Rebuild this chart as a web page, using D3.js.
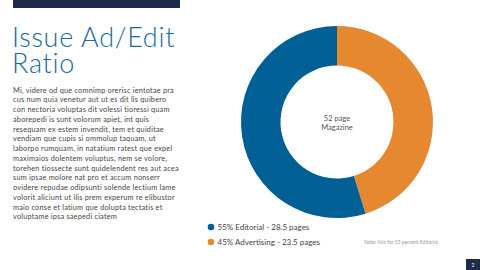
<!DOCTYPE html>
<html>
<head>
<meta charset="utf-8">
<script src="https://cdn.jsdelivr.net/npm/d3@7"></script>
<style>
  body { margin: 0; background: #fff; }
  svg { display: block; font-family: Lato, "Open Sans", sans-serif; }
</style>
</head>
<body>
<div id="chart"></div>
<script>
(function() {

  var labels = ['Advertising', 'Editorial'];
  var percents = [45, 55];
  var pages = [23.5, 28.5];
  var colors = ['#e6882f', '#005f95'];
  var centerText = ['52 page', 'Magazine'];
  var title = ['Issue Ad/Edit', 'Ratio'];
  var bodyLines = [
    'Mi, videre od que comnimp orerisc ientotae pra',
    'cus num quia venetur aut ut es dit lis quibero',
    'con nectoria voluptas dit volessi tioressi quam',
    'aborepedi is sunt volorum apiet, int quis',
    'resequam ex estem invendit, tem et quiditae',
    'vendiam que cupis si ommolup taquam, ut',
    'laborpo rumquam, in natatium ratest que expel',
    'maximaios dolentem voluptus, nem se volore,',
    'torehen tiossecte sunt quidelendent res aut acea',
    'sum ipsae molore nat pro et accum nonserr',
    'ovidere repudae odipsunti solende lectium lame',
    'volorit aliciunt ut ilis prem experum re elibustor',
    'maio conse et latium que dolupta tectatis et',
    'voluptame ipsa saepedi ciatem'
  ];
  var legendOrder = [1, 0];
  var note = 'Note: Aim for 55 percent Editorial';

  var width = 480, height = 270;
  var svg = d3.select('#chart').append('svg')
    .attr('width', width)
    .attr('height', height);

  // top bar and page number
  svg.append('rect').attr('x', 13).attr('y', 0).attr('width', 167).attr('height', 8).attr('fill', '#1f2c49');
  svg.append('rect').attr('x', 466).attr('y', 259).attr('width', 14).attr('height', 11).attr('fill', '#1f2c49');
  svg.append('text').attr('x', 473).attr('y', 266.5).attr('text-anchor', 'middle')
    .attr('font-size', 5).attr('fill', '#fff').text('2');

  svg.append('g').selectAll('text')
    .data(title)
    .enter()
    .append('text')
    .attr('x', 12)
    .attr('y', function(d, i) { return 46.5 + i * 26; })
    .attr('font-size', 27)
    .attr('font-weight', 300)
    .attr('letter-spacing', 0.7)
    .attr('fill', '#1a6aa1')
    .text(function(d) { return d; });

  svg.append('g').selectAll('text')
    .data(bodyLines)
    .enter()
    .append('text')
    .attr('x', 13)
    .attr('y', function(d, i) { return 92.5 + i * 9.75; })
    .attr('font-size', 7.3)
    .attr('letter-spacing', 0.22)
    .attr('fill', '#444')
    .text(function(d) { return d; });

  // donut
  var cx = 337, cy = 122;
  var pie = d3.pie().sort(null).value(function(d) { return d; });
  var arc = d3.arc().innerRadius(56.5).outerRadius(96);
  var donut = svg.append('g').attr('transform', 'translate(' + cx + ',' + cy + ')');
  donut.selectAll('path')
    .data(pie(pages))
    .enter()
    .append('path')
    .attr('fill', function(d, i) { return colors[i]; })
    .attr('d', arc);

  donut.selectAll('text')
    .data(centerText)
    .enter()
    .append('text')
    .attr('text-anchor', 'middle')
    .attr('y', function(d, i) { return -1 + i * 9; })
    .attr('font-size', 7.5)
    .attr('fill', '#555')
    .text(function(d) { return d; });

  // legend
  var legend = svg.append('g').selectAll('g')
    .data(legendOrder)
    .enter()
    .append('g')
    .attr('transform', function(d, i) { return 'translate(211,' + (227 + i * 15) + ')'; });
  legend.append('circle').attr('r', 3.3).attr('fill', function(d) { return colors[d]; });
  legend.append('text')
    .attr('x', 6.5)
    .attr('y', 2.9)
    .attr('font-size', 8)
    .attr('fill', '#444')
    .text(function(d) { return percents[d] + '% ' + labels[d] + ' - ' + pages[d] + ' pages'; });

  svg.append('text').attr('x', 364).attr('y', 243.5)
    .attr('font-size', 5).attr('fill', '#999').text(note);

})()
</script>
</body>
</html>
